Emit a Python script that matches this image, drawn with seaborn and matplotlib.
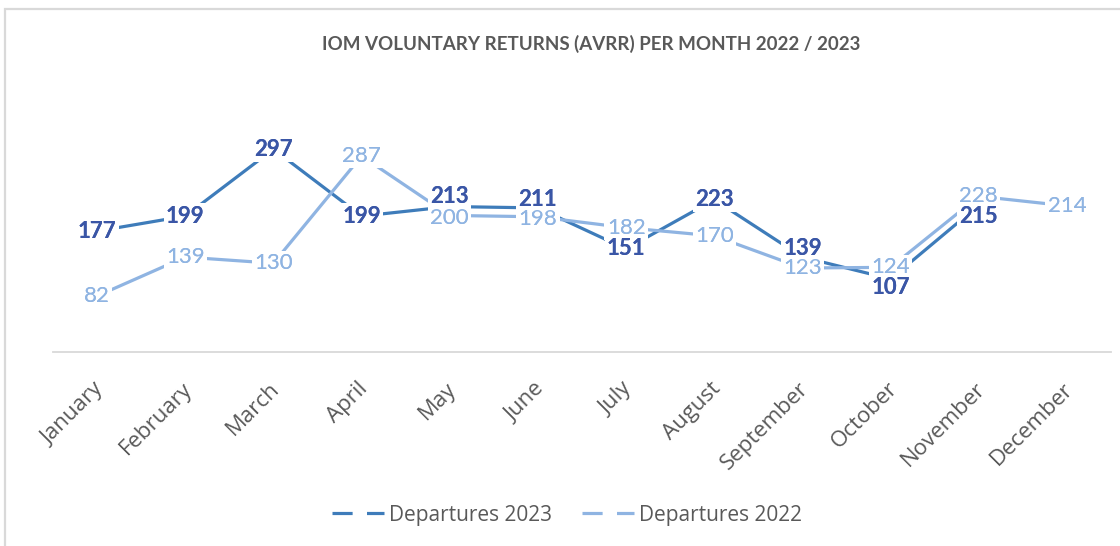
import matplotlib
matplotlib.use("Agg")
import matplotlib.pyplot as plt
from matplotlib.lines import Line2D
from matplotlib.patches import Rectangle
import matplotlib.transforms as mtransforms
import numpy as np
import pandas as pd
import seaborn as sns

months = ["January", "February", "March", "April", "May", "June", "July",
          "August", "September", "October", "November", "December"]
dep_2023 = [177, 199, 297, 199, 213, 211, 151, 223, 139, 107, 215]
dep_2022 = [82, 139, 130, 287, 200, 198, 182, 170, 123, 124, 228, 214]

line_2023 = "#3E7CBA"
text_2023 = "#3A56A6"
col_2022 = "#8FB4E2"
grey = "#595959"

# Excel moved a few labels off their points to avoid overlaps (points)
nudge_2023 = {4: 7, 5: 6, 8: 6, 9: -6, 10: -8}
nudge_2022 = {4: -1.5, 5: -1.5}

sns.set_theme(style="white")
plt.rcParams["font.family"] = ["Lato", "DejaVu Sans"]

# long-form table for seaborn
df = pd.concat([
    pd.DataFrame({"idx": np.arange(len(dep_2023)), "value": dep_2023,
                  "series": "Departures 2023"}),
    pd.DataFrame({"idx": np.arange(len(dep_2022)), "value": dep_2022,
                  "series": "Departures 2022"}),
])

fig = plt.figure(figsize=(11.2, 5.46), dpi=100)
ax = fig.add_axes([53 / 1120, 194 / 546, 1058 / 1120, 239 / 546])

sns.lineplot(data=df, x="idx", y="value", hue="series",
             palette={"Departures 2023": line_2023, "Departures 2022": col_2022},
             linewidth=2.3, legend=False, ax=ax, zorder=2)


def put_labels(values, color, weight, nudge, z, boxed):
    for i, v in enumerate(values):
        ax.annotate(str(v), (i, v), xytext=(0, nudge.get(i, 0)),
                    textcoords="offset points", ha="center", va="center",
                    fontsize=16, fontweight=weight, color=color, zorder=z,
                    bbox=dict(boxstyle="square,pad=0.1", fc="white", ec="none")
                    if boxed else None)


# white boxes cut the lines like Excel does; text drawn again on top so
# neighbouring boxes never hide a number
put_labels(dep_2022, col_2022, "normal", nudge_2022, 4, True)
put_labels(dep_2023, text_2023, "bold", nudge_2023, 5, True)
put_labels(dep_2022, col_2022, "normal", nudge_2022, 6, False)
put_labels(dep_2023, text_2023, "bold", nudge_2023, 7, False)

ax.set_xlim(-0.5, len(months) - 0.5)
ax.set_ylim(0, 350)
ax.set_xticks(range(len(months)))
ax.set_xticklabels(months, rotation=45, ha="right", rotation_mode="anchor",
                   fontsize=16, color=grey, family=["Open Sans", "DejaVu Sans"])
ax.tick_params(axis="x", length=0, pad=19)
shift = mtransforms.ScaledTranslation(-4 / 100, 0, fig.dpi_scale_trans)
for lab in ax.get_xticklabels():
    lab.set_transform(lab.get_transform() + shift)
ax.set_yticks([])
ax.set_xlabel("")
ax.set_ylabel("")
for s in ["top", "right", "left"]:
    ax.spines[s].set_visible(False)
ax.spines["bottom"].set_color("#D9D9D9")
ax.spines["bottom"].set_linewidth(1.3)

fig.text(591 / 1120, 1 - 44 / 546,
         "IOM VOLUNTARY RETURNS (AVRR) PER MONTH 2022 / 2023",
         ha="center", va="center", fontsize=13.5, fontweight="bold", color=grey)

dash = (0, (6.3, 4.5, 6.3, 100))
handles = [
    Line2D([0], [0], color=line_2023, lw=2.3, linestyle=dash),
    Line2D([0], [0], color=col_2022, lw=2.3, linestyle=dash),
]
fig.legend(handles, ["Departures 2023", "Departures 2022"],
           loc="center", bbox_to_anchor=(567 / 1120, 1 - 515 / 546),
           ncol=2, frameon=False, labelcolor=grey,
           prop={"family": ["Open Sans", "DejaVu Sans"], "size": 15},
           handlelength=2.5, handletextpad=0.25, columnspacing=1.4)

# chart frame, cut off on the right and bottom like the screenshot
fig.patches.append(Rectangle((5 / 1120, -0.1), 1.2, 1.1 - 9 / 546,
                             transform=fig.transFigure, fill=False,
                             ec="#D9D9D9", lw=1.6, zorder=0))

fig.savefig("out.png", dpi=100)
